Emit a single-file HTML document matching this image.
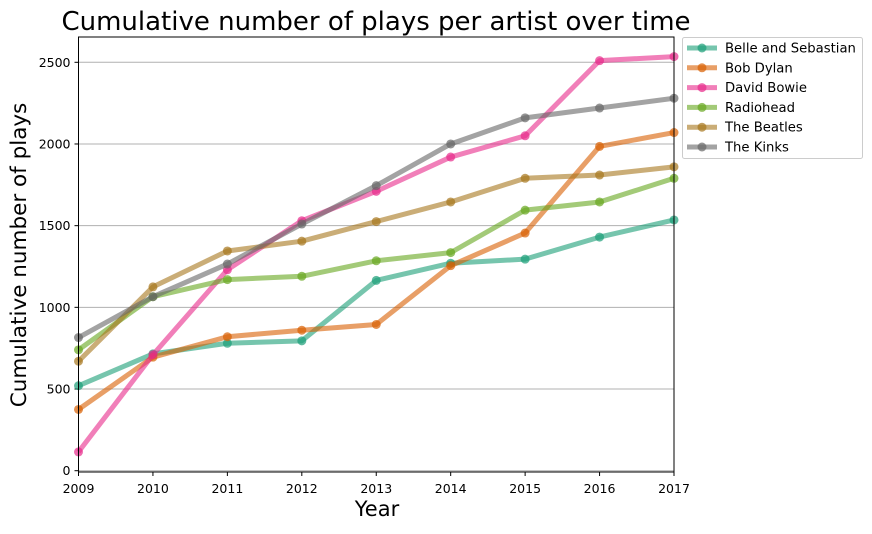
<!DOCTYPE html>
<html><head><meta charset="utf-8"><style>
body{margin:0;background:#fff;font-family:"Liberation Sans","DejaVu Sans",sans-serif}
svg text{font-family:"DejaVu Sans","Liberation Sans",sans-serif}
</style></head><body>
<svg id="c" width="872" height="529"></svg>
<script>
const years=[2009,2010,2011,2012,2013,2014,2015,2016,2017];
const artists=["Belle and Sebastian","Bob Dylan","David Bowie","Radiohead","The Beatles","The Kinks"];
const belle=[520,715,780,795,1165,1270,1295,1430,1535];
const dylan=[375,695,820,860,895,1255,1455,1985,2070];
const bowie=[115,710,1230,1530,1710,1920,2050,2510,2535];
const radiohead=[740,1065,1170,1190,1285,1335,1595,1645,1790];
const beatles=[670,1125,1345,1405,1525,1645,1790,1810,1860];
const kinks=[815,1065,1265,1510,1745,2000,2160,2220,2280];
const yTicks=[0,500,1000,1500,2000,2500];
const series=[belle,dylan,bowie,radiohead,beatles,kinks];
const colors=["#1b9e77","#d95f02","#e7298a","#66a61e","#a6761d","#666666"];
const L=78.5,R=674,T=37,B=472;
const x=v=>L+(v-2009)/(2017-2009)*(R-L);
const y=v=>470.7-v*0.16336;
const NS="http://www.w3.org/2000/svg";
const svg=document.getElementById('c');
function mk(t,a,p){const e=document.createElementNS(NS,t);for(const k in a)e.setAttribute(k,a[k]);(p||svg).appendChild(e);return e;}
yTicks.forEach(t=>{
 const g=mk('line',{x1:L,x2:R,y1:y(t),y2:y(t),stroke:'#b0b0b0','stroke-width':1});
 
 
 mk('line',{x1:L-4,x2:L,y1:y(t),y2:y(t),stroke:'#000'});
 const tx=mk('text',{x:L-8,y:y(t)+4.5,'text-anchor':'end','font-size':12.5});
 tx.textContent=t;
 
 
});
years.forEach(yr=>{
 mk('line',{x1:x(yr),x2:x(yr),y1:B,y2:B+4,stroke:'#000'});
 const tx=mk('text',{x:x(yr),y:B+21,'text-anchor':'middle','font-size':12.5});
 tx.textContent=yr;
 
 
});
series.forEach((s,i)=>{
 const g=mk('g',{});
 
 
 mk('polyline',{points:s.map((v,j)=>x(years[j])+','+y(v)).join(' '),fill:'none',stroke:colors[i],'stroke-width':5,'stroke-opacity':0.6,'stroke-linejoin':'round'},g);
 s.forEach((v,j)=>{const c=mk('circle',{cx:x(years[j]),cy:y(v),r:4.5,fill:colors[i],'fill-opacity':0.7},g);
  
  });
});
const fr=mk('rect',{x:L,y:T,width:R-L,height:B-T,fill:'none',stroke:'#000','stroke-width':1});


const ti=mk('text',{x:376,y:30,'text-anchor':'middle','font-size':26});
ti.textContent='Cumulative number of plays per artist over time';


const xl=mk('text',{x:377,y:516,'text-anchor':'middle','font-size':21});
xl.textContent='Year';


const yl=mk('text',{x:0,y:0,'text-anchor':'middle','font-size':21.5,transform:'translate(26,255) rotate(-90)'});
yl.textContent='Cumulative number of plays';


const lg=mk('g',{});


mk('rect',{x:682.5,y:37.5,width:180,height:121,rx:2,fill:'#fff',stroke:'#ccc'},lg);
artists.forEach((a,i)=>{
 const yy=48+i*19.8;
 mk('line',{x1:687,x2:717,y1:yy,y2:yy,stroke:colors[i],'stroke-width':5,'stroke-opacity':0.6},lg);
 mk('circle',{cx:702,cy:yy,r:4.5,fill:colors[i],'fill-opacity':0.7},lg);
 const t=mk('text',{x:725,y:yy+4.5,'font-size':13.2},lg);
 t.textContent=a;
 
 
});
</script>
</body></html>
